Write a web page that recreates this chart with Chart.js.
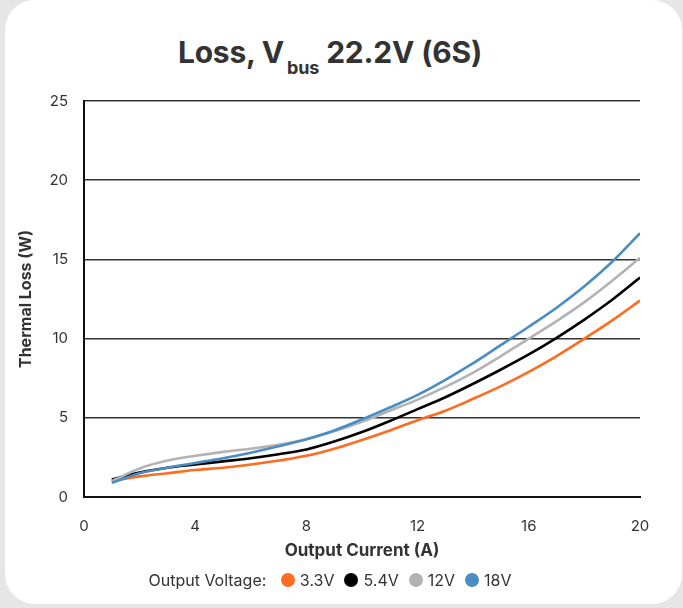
<!DOCTYPE html>
<html>
<head>
<meta charset="utf-8">
<script src="https://cdn.jsdelivr.net/npm/chart.js@4"></script>
<style>
  html, body { margin: 0; padding: 0; }
  body { width: 683px; height: 608px; background: #e6e6e6; position: relative; overflow: hidden; font-family: Inter, "Noto Sans", sans-serif; }
  .card { position: absolute; left: 5px; top: 0; width: 677px; height: 604px; background: #fff; border-radius: 30px; }
  .title { position: absolute; left: 0; width: 660px; top: 34px; text-align: center; font-weight: 700; font-size: 30px; color: #333; letter-spacing: -0.2px; }
  .title sub { font-size: 18px; vertical-align: -11px; margin-left: 3px; margin-right: 7px; }
  #wrap { position: absolute; left: 0; top: 0; width: 683px; height: 608px; }
  .legend { position: absolute; left: 0; width: 660px; top: 570px; text-align: center; font-size: 16px; color: #333; }
  .legend span.item { margin-left: 10px; }
  .legend i { display: inline-block; width: 14px; height: 14px; border-radius: 50%; vertical-align: -1px; margin-right: 5px; }
</style>
</head>
<body>
<div class="card"></div>
<div class="title">Loss, V<sub>bus</sub>22.2V (6S)</div>
<div id="wrap"><canvas id="lossChart"></canvas></div>
<div class="legend" id="legend"></div>
<script>
const currents = [1, 2, 3, 4, 5, 6, 7, 8, 9, 10, 11, 12, 13, 14, 15, 16, 17, 18, 19, 20];
const seriesNames = ['3.3V', '5.4V', '12V', '18V'];
const seriesColors = ['#ff6b1f', '#000000', '#b3b3b3', '#4a8cc4'];
const loss33 = [1.0, 1.3, 1.5, 1.7, 1.85, 2.05, 2.3, 2.6, 3.05, 3.6, 4.2, 4.85, 5.45, 6.2, 7.0, 7.9, 8.9, 10.0, 11.15, 12.4];
const loss54 = [1.1, 1.55, 1.85, 2.05, 2.25, 2.45, 2.7, 3.0, 3.5, 4.1, 4.8, 5.55, 6.3, 7.15, 8.05, 9.0, 10.05, 11.2, 12.45, 13.85];
const loss12 = [1.0, 1.8, 2.3, 2.6, 2.85, 3.05, 3.3, 3.65, 4.15, 4.75, 5.45, 6.15, 6.95, 7.85, 8.9, 10.0, 11.1, 12.3, 13.65, 15.1];
const loss18 = [0.9, 1.5, 1.85, 2.15, 2.45, 2.8, 3.2, 3.65, 4.2, 4.9, 5.65, 6.45, 7.4, 8.45, 9.6, 10.75, 11.95, 13.3, 14.85, 16.65];
const xTicks = [0, 4, 8, 12, 16, 20];
const yTicks = [0, 5, 10, 15, 20, 25];

const allLoss = [loss33, loss54, loss12, loss18];

const datasets = seriesNames.map((name, i) => ({
    label: name,
    data: currents.map((c, k) => ({ x: c, y: allLoss[i][k] })),
    borderColor: seriesColors[i],
    backgroundColor: seriesColors[i],
    borderWidth: 2.6,
    pointRadius: 0,
    cubicInterpolationMode: 'monotone',
    fill: false
}));
// blue drawn on top, like the reference
datasets.reverse();

new Chart(document.getElementById('lossChart'), {
    type: 'line',
    data: { datasets: datasets },
    options: {
        responsive: true,
        maintainAspectRatio: false,
        animation: false,
        layout: { padding: { left: 17, right: 43, top: 101, bottom: 47 } },
        plugins: { legend: { display: false }, tooltip: { enabled: false } },
        scales: {
            x: {
                type: 'linear',
                min: xTicks[0],
                max: xTicks[xTicks.length - 1],
                afterBuildTicks: s => { s.ticks = xTicks.map(v => ({ value: v })); },
                afterFit: s => { s.height = 64; },
                grid: { display: false, drawTicks: false },
                border: { display: true, color: '#111', width: 2 },
                ticks: { padding: 20, color: '#333', font: { family: 'Inter', size: 15 } },
                title: { display: true, text: 'Output Current (A)', color: '#333', padding: 0, font: { family: 'Inter', size: 17, weight: 'bold' } }
            },
            y: {
                min: yTicks[0],
                max: yTicks[yTicks.length - 1],
                afterBuildTicks: s => { s.ticks = yTicks.map(v => ({ value: v })); },
                afterFit: s => { s.width = 67; },
                grid: { color: '#333', lineWidth: 1.6, drawTicks: false },
                border: { display: true, color: '#111', width: 2 },
                ticks: { padding: 16, color: '#333', font: { family: 'Inter', size: 15 } },
                title: { display: true, text: 'Thermal Loss (W)', color: '#333', padding: 0, font: { family: 'Inter', size: 16, weight: 'bold' } }
            }
        }
    }
});

const legend = document.getElementById('legend');
let html = 'Output Voltage: ';
seriesNames.forEach((n, i) => {
    html += `<span class="item"><i style="background:${seriesColors[i]}"></i>${n}</span>`;
});
legend.innerHTML = html;
</script>
</body>
</html>
